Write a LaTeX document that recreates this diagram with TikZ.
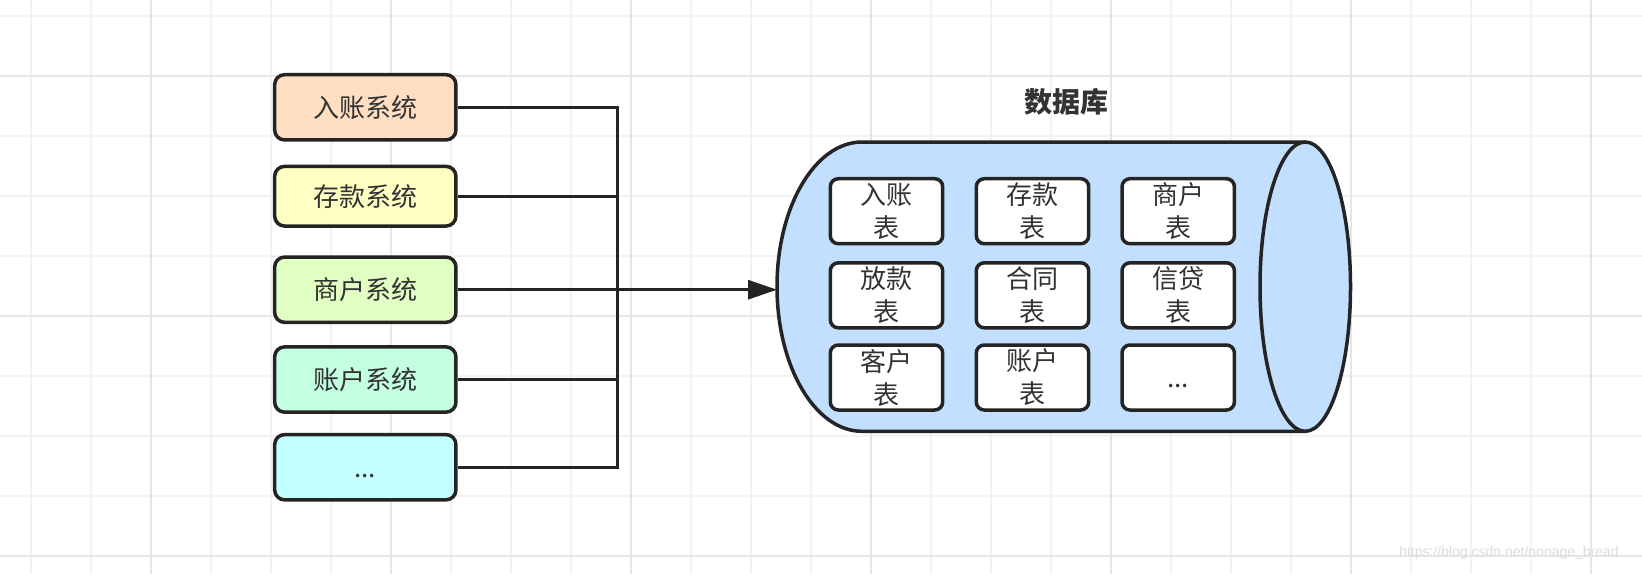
\documentclass[tikz,border=0pt]{standalone}
\usepackage{fontspec}
\setmainfont{Liberation Sans}
\newfontfamily\cjk{Noto Sans CJK SC}
\usetikzlibrary{arrows.meta}
\definecolor{edge}{HTML}{242424}
\definecolor{txt}{HTML}{333333}
\definecolor{gridminor}{HTML}{F2F2F2}
\definecolor{gridmajor}{HTML}{E6E6E6}
\definecolor{cpeach}{HTML}{FFDEC2}
\definecolor{cyellow}{HTML}{FFFFC4}
\definecolor{cgreen}{HTML}{E1FFC3}
\definecolor{cmint}{HTML}{C3FFE1}
\definecolor{ccyan}{HTML}{C3FFFF}
\definecolor{cblue}{HTML}{C2DFFF}
\definecolor{wmark}{HTML}{DCDCDC}
\begin{document}
\begin{tikzpicture}[x=0.5pt,y=0.5pt,
  sysbox/.style={draw=edge, line width=1.75pt, rounded corners=5pt,
    minimum width=90.65pt, minimum height=32.65pt, inner sep=0pt,
    font=\cjk\fontsize{13}{16}\selectfont, text=txt},
  tblbox/.style={draw=edge, fill=white, line width=1.75pt, rounded corners=4pt,
    minimum width=56.2pt, minimum height=32.5pt, inner sep=0pt, align=center,
    font=\cjk\fontsize{13}{16.5}\selectfont, text=txt},
  wire/.style={draw=edge, line width=1.5pt},
  arr/.style={wire, -{Triangle[length=14.5pt,width=9.5pt]}},
  dbshape/.style={draw=edge, line width=1.75pt},
]
\useasboundingbox (0,0) rectangle (1642,-574);
\fill[white] (0,0) rectangle (1642,-574);
% grid
\foreach \gx in {31,91,...,1591} \draw[gridminor, line width=0.9pt] (\gx,0) -- (\gx,-574);
\foreach \gy in {16,76,...,556} \draw[gridminor, line width=0.9pt] (0,-\gy) -- (1642,-\gy);
\foreach \gx in {151,391,...,1591} \draw[gridmajor, line width=1pt] (\gx,0) -- (\gx,-574);
\foreach \gy in {76,316,556} \draw[gridmajor, line width=1pt] (0,-\gy) -- (1642,-\gy);

% source systems
\node[sysbox, fill=cpeach]  (b1) at (365.3,-107.3) {入账系统};
\node[sysbox, fill=cyellow, minimum height=29.85pt] (b2) at (365.3,-196.2) {存款系统};
\node[sysbox, fill=cgreen]  (b3) at (365.3,-289.7) {商户系统};
\node[sysbox, fill=cmint]   (b4) at (365.3,-379.5) {账户系统};
\node[sysbox, fill=ccyan]   (b5) at (365.3,-467.2) {\vphantom{系}...};

% database cylinder
\fill[cblue] (1305.25,-142) -- (862,-142)
  arc[start angle=90, end angle=270, x radius=85, y radius=144.65] -- (1305.25,-431.3) -- cycle;
\draw[dbshape] (1305.25,-142) -- (862,-142)
  arc[start angle=90, end angle=270, x radius=85, y radius=144.65] -- (1305.25,-431.3);
\draw[dbshape, fill=cblue] (1305.25,-286.65) ellipse[x radius=45.25, y radius=144.65];
\coordinate (dbin) at (777,-286.65);
\node[font=\cjk\bfseries\fontsize{14}{16}\selectfont, text=txt] (dbtitle) at (1066.7,-101.7) {数据库};

% tables
\node[tblbox] (t11) at (886.5,-211.2) {入账\\表};
\node[tblbox] (t12) at (1032.5,-211.2) {存款\\表};
\node[tblbox] (t13) at (1178.2,-211.2) {商户\\表};
\node[tblbox] (t21) at (886.5,-295.3) {放款\\表};
\node[tblbox] (t22) at (1032.5,-295.3) {合同\\表};
\node[tblbox] (t23) at (1178.2,-295.3) {信贷\\表};
\node[tblbox] (t31) at (886.5,-377.5) {客户\\表};
\node[tblbox] (t32) at (1032.5,-377.5) {账户\\表};
\node[tblbox] (t33) at (1178.2,-377.5) {\vphantom{表}...};

% connectors
\coordinate (busx) at (617,0);
\draw[wire] (b1.east) -- (b1.east -| busx) -- (b5.east -| busx) -- (b5.east);
\draw[wire] (b2.east) -- (b2.east -| busx);
\draw[wire] (b4.east) -- (b4.east -| busx);
\draw[arr] (b3.east) -- (b3.east -| dbin);

% watermark
\node[font=\fontsize{7}{8}\selectfont, text=wmark] (wm) at (1509,-553) {https://blog.csdn.net/nonage\_bread};
\end{tikzpicture}
\end{document}
